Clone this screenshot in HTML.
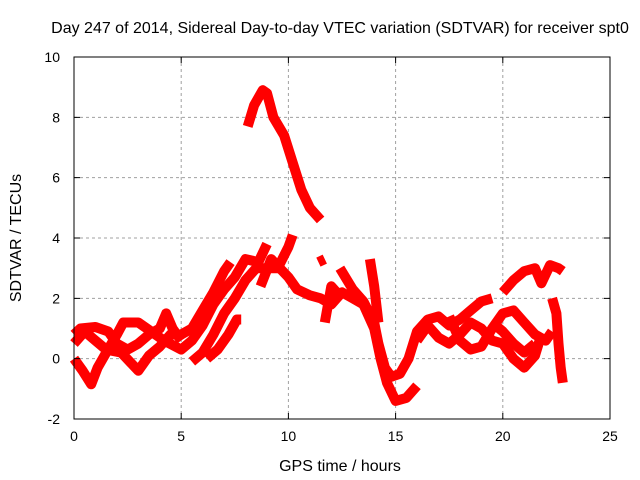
<!DOCTYPE html>
<html><head><meta charset="utf-8"><style>
body{margin:0;background:#fff;}
svg{display:block;font-family:"Liberation Sans",Arial,sans-serif;}
</style></head><body>
<svg id="chart" width="640" height="480" xmlns="http://www.w3.org/2000/svg">
<rect width="640" height="480" fill="#fff"/>
<g id="grid"></g>
<g id="series"></g>
<rect x="74" y="57" width="536" height="362" fill="none" stroke="#000" stroke-width="1"/>
<g id="ticks"></g>
<text x="340" y="33" font-size="16" text-anchor="middle">Day 247 of 2014, Sidereal Day-to-day VTEC variation (SDTVAR) for receiver spt0</text>
<text x="340" y="471" font-size="16" text-anchor="middle">GPS time / hours</text>
<text transform="translate(21,238) rotate(-90)" font-size="16" text-anchor="middle">SDTVAR / TECUs</text>
</svg>
<script>
const xTicks=[0,5,10,15,20,25];
const yTicks=[-2,0,2,4,6,8,10];
const track1=[[8.1,7.7],[8.4,8.4],[8.8,8.9],[9.0,8.8],[9.3,8.0],[9.8,7.4],[10.2,6.5],[10.6,5.6],[11.0,5.0],[11.5,4.6]];
const track2=[[0,0.8],[0.3,1.0],[1,1.05],[1.6,0.9],[2,0.5],[2.5,0.3],[3,0.5],[3.5,0.8],[4,1.0],[4.3,1.5],[4.6,1.0],[5,0.6]];
const track3=[[0,0],[0.4,-0.4],[0.8,-0.85],[1.1,-0.3],[1.5,0.2],[2,0.8],[2.3,1.2],[3,1.2],[3.6,0.9],[4.2,0.6],[5,0.3],[5.5,0.6],[6,1.1],[6.5,1.8],[7,2.3],[7.5,2.7],[8,3.3],[8.6,3.2],[9,3.8]];
const track4=[[0,0.5],[0.5,0.9],[1,0.6],[1.5,0.3],[2.2,0.2],[3,-0.4],[3.5,0.1],[4,0.4],[4.5,0.8],[5,0.8],[5.5,1.0],[6,1.6],[6.5,2.2],[7,2.9],[7.3,3.2]];
const track5=[[5.5,-0.1],[6,0.2],[6.5,0.8],[7,1.5],[7.5,2.0],[8,2.6],[8.5,3.0],[9,3.0],[9.5,3.0],[10,3.7],[10.2,4.1]];
const track6=[[6.2,0],[6.7,0.3],[7.2,0.8],[7.6,1.3],[7.8,1.3]];
const track7=[[8.7,2.4],[9.2,3.3],[9.6,3.0],[10,2.7],[10.4,2.3],[11,2.1],[11.5,2.0],[12,1.8],[12.5,2.2],[13,2.0],[13.5,1.8],[14,1.0],[14.3,0],[14.6,-0.8],[15,-1.4],[15.5,-1.3],[16,-0.9]];
const track8=[[11.4,3.2],[11.7,3.3]];
const track9=[[11.7,1.2],[12,2.4],[12.5,2.0]];
const track10=[[12.4,3.0],[13,2.3],[13.5,1.9],[14,1.2],[14.2,0.5],[14.5,-0.3],[14.8,-0.6],[15.2,-0.5],[15.6,0],[16,0.9],[16.5,1.3],[17,1.4],[17.5,1.1],[18,1.3],[18.5,1.6],[19,1.9],[19.5,2.0]];
const track11=[[13.8,3.3],[14,2.4],[14.2,1.2]];
const track12=[[16,0.6],[16.5,1.1],[17,0.7],[17.5,0.5],[18,0.8],[18.5,1.2],[19,1.0],[19.5,0.6],[20,0.5],[20.5,0],[21,-0.3],[21.5,0.1],[21.8,0.8]];
const track13=[[17.5,1.4],[18,0.6],[18.5,0.3],[19,0.4],[19.5,1.0],[20,1.5],[20.5,1.6],[21,1.2],[21.5,0.8],[22,0.6],[22.3,0.9]];
const track14=[[20,2.2],[20.5,2.6],[21,2.9],[21.5,3.0],[21.8,2.5],[22.2,3.1],[22.6,3.0],[22.8,2.9]];
const track15=[[22.3,2.0],[22.5,1.5],[22.6,0.5],[22.7,-0.3],[22.8,-0.8]];
const track16=[[19.5,1.2],[20,0.9],[20.5,0.5],[21,0.2],[21.5,0.5]];
const tracks=[track1,track2,track3,track4,track5,track6,track7,track8,track9,track10,track11,track12,track13,track14,track15,track16];

const X0=74,X1=610,Y0=419,Y1=57,xmin=0,xmax=25,ymin=-2,ymax=10;
const sx=v=>X0+(v-xmin)/(xmax-xmin)*(X1-X0);
const sy=v=>Y0-(v-ymin)/(ymax-ymin)*(Y0-Y1);
const NS="http://www.w3.org/2000/svg";
function mk(tag,attrs,parent){const e=document.createElementNS(NS,tag);for(const k in attrs)e.setAttribute(k,attrs[k]);parent.appendChild(e);return e;}
const grid=document.getElementById('grid'),ticks=document.getElementById('ticks'),series=document.getElementById('series');
xTicks.forEach(t=>{
  const x=sx(t);
  if(t>xmin&&t<xmax){const g=mk('line',{x1:x,x2:x,y1:Y1,y2:Y0,stroke:'#a0a0a0','stroke-dasharray':'3,3'},grid);
  
  }
  const tk=mk('path',{d:`M${x},${Y0}v-6M${x},${Y1}v6`,stroke:'#000'},ticks);
  
  
  const l=mk('text',{x:x,y:Y0+22,'font-size':14,'text-anchor':'middle'},ticks);l.textContent=t;
  
  
});
yTicks.forEach(t=>{
  const y=sy(t);
  if(t>ymin&&t<ymax){const g=mk('line',{x1:X0,x2:X1,y1:y,y2:y,stroke:'#a0a0a0','stroke-dasharray':'3,3'},grid);
  
  }
  const tk=mk('path',{d:`M${X0},${y}h6M${X1},${y}h-6`,stroke:'#000'},ticks);
  
  
  const l=mk('text',{x:X0-14,y:y+5,'font-size':14,'text-anchor':'end'},ticks);l.textContent=t;
  
  
});
tracks.forEach((tr,i)=>{
  const d=tr.map((p,j)=>(j?'L':'M')+sx(p[0]).toFixed(1)+','+sy(p[1]).toFixed(1)).join('');
  const p=mk('path',{d:d,fill:'none',stroke:'#ff0000','stroke-width':10,'stroke-linejoin':'round','stroke-linecap':'butt'},series);
  
  
});
</script>
</body></html>
